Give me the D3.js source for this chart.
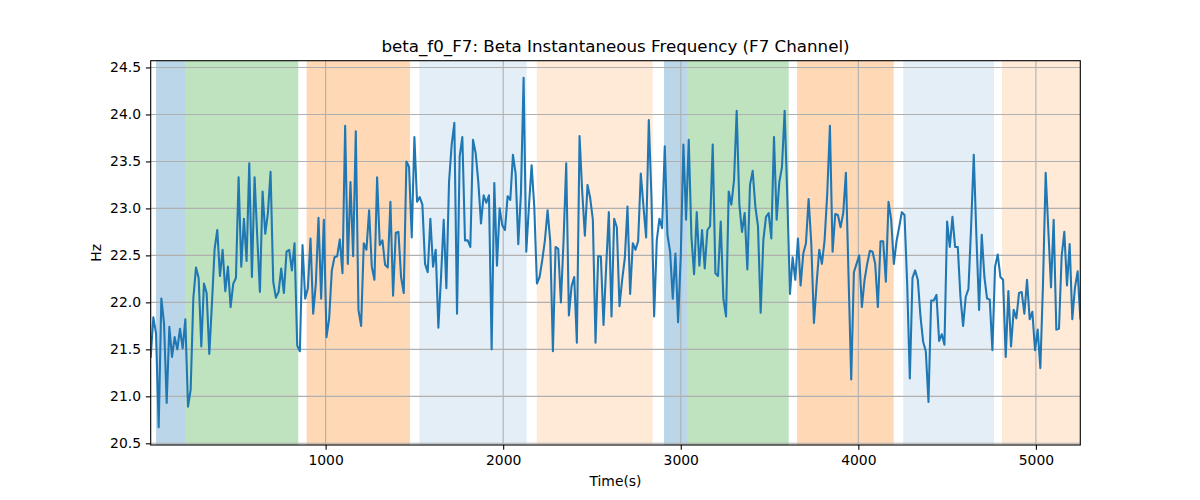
<!DOCTYPE html>
<html>
<head>
<meta charset="utf-8">
<script src="https://cdn.jsdelivr.net/npm/d3@7"></script>
<style>
  html, body { margin: 0; padding: 0; background: #fff; }
  svg { display: block; font-family: "DejaVu Sans", sans-serif; }
</style>
</head>
<body>
<svg id="chart" width="1200" height="500"></svg>
<script>
// ---- data ----
const T0 = 15;      // first sample time (s)
const DT = 15;      // sample spacing (s)
const values = [
  21.42, 21.84, 21.67, 20.67, 22.04, 21.78, 20.93, 21.74, 21.42, 21.63,
  21.50, 21.72, 21.51, 21.82, 20.89, 21.07, 22.04, 22.37, 22.26, 21.53,
  22.20, 22.10, 21.45, 21.99, 22.57, 22.77, 22.28, 22.56, 22.12, 22.38,
  21.95, 22.20, 22.26, 23.33, 22.38, 22.89, 22.44, 23.48, 22.27, 23.33,
  22.70, 22.11, 23.18, 22.73, 22.95, 23.39, 22.22, 22.05, 22.11, 22.36,
  22.10, 22.54, 22.56, 22.34, 22.63, 21.54, 21.48, 22.61, 22.04, 22.15,
  22.68, 21.88, 22.20, 22.90, 22.04, 22.88, 21.63, 21.83, 22.34, 22.48,
  22.49, 22.67, 22.31, 23.88, 22.41, 23.28, 22.49, 23.82, 21.92, 21.75,
  22.63, 22.56, 22.98, 22.38, 22.24, 23.33, 22.61, 22.66, 22.40, 22.37,
  23.07, 22.07, 22.74, 22.75, 22.27, 22.10, 23.50, 23.44, 22.69, 23.76,
  23.07, 23.12, 23.04, 22.41, 22.32, 22.89, 22.38, 22.56, 21.73, 22.27,
  22.88, 22.15, 23.28, 23.68, 23.91, 21.88, 23.55, 23.76, 22.66, 22.66,
  22.59, 23.73, 23.59, 23.28, 22.84, 23.14, 23.06, 23.14, 21.50, 23.27,
  22.39, 23.00, 22.82, 22.77, 23.13, 23.09, 23.57, 23.37, 22.62, 23.16,
  24.39, 22.54, 23.02, 23.46, 23.02, 22.20, 22.27, 22.45, 22.66, 22.98,
  22.65, 21.48, 22.59, 22.57, 22.00, 22.66, 23.48, 21.86, 22.17, 22.27,
  21.57, 23.77, 23.18, 22.71, 23.25, 23.11, 22.88, 21.57, 22.49, 22.49,
  21.76, 22.38, 22.96, 21.85, 22.89, 22.80, 21.96, 22.24, 22.47, 23.02,
  22.09, 22.63, 22.56, 22.65, 23.37, 23.02, 22.69, 23.94, 23.12, 21.85,
  22.66, 22.89, 22.79, 23.66, 22.72, 22.54, 22.04, 22.52, 21.79, 22.49,
  23.68, 22.88, 23.73, 22.70, 22.30, 22.96, 22.39, 22.77, 22.36, 22.77,
  22.81, 23.68, 22.31, 22.28, 22.86, 22.04, 21.85, 23.18, 23.04, 23.30,
  24.04, 23.04, 22.75, 22.95, 22.35, 23.25, 23.40, 23.02, 22.81, 21.89,
  22.66, 22.91, 22.95, 22.68, 23.76, 22.88, 23.28, 23.44, 24.04, 23.12,
  22.09, 22.48, 22.24, 22.68, 22.18, 22.52, 22.63, 23.10, 22.63, 21.78,
  22.20, 22.56, 22.41, 22.66, 23.16, 23.88, 22.54, 22.94, 22.93, 22.80,
  22.95, 23.38, 22.27, 21.18, 22.32, 22.41, 22.50, 21.95, 22.24, 22.41,
  22.55, 22.54, 22.41, 21.95, 22.65, 22.65, 22.22, 23.07, 22.88, 22.41,
  22.65, 22.80, 22.96, 22.93, 22.20, 21.19, 22.26, 22.34, 22.24, 21.85,
  21.58, 21.48, 20.94, 22.02, 22.02, 22.08, 21.59, 21.66, 21.55, 22.86,
  22.59, 22.91, 22.59, 22.59, 22.06, 21.75, 22.06, 22.14, 22.80, 23.57,
  22.70, 21.92, 22.72, 22.27, 22.04, 22.03, 21.49, 22.38, 22.51, 22.27,
  22.24, 21.42, 22.12, 21.53, 21.92, 21.83, 22.10, 22.11, 21.88, 22.24,
  21.82, 21.90, 21.49, 21.71, 21.30, 22.20, 23.38, 22.77, 22.16, 22.88,
  21.71, 21.72, 22.49, 22.75, 22.18, 22.62, 21.82, 22.16, 22.33, 21.83
];
const times = values.map((_, i) => T0 + i * DT);

// shaded stage intervals (s)
const spanStarts = [45, 208, 893, 1528, 2189, 2906, 3037, 3655, 4253, 4809];
const spanEnds   = [208, 846, 1475, 2132, 2842, 3037, 3608, 4199, 4764, 5300];
const spanColors = ["#1f77b4", "#2ca02c", "#ff7f0e", "#1f77b4", "#ff7f0e",
                    "#1f77b4", "#2ca02c", "#ff7f0e", "#1f77b4", "#ff7f0e"];
const spanAlphas = [0.3, 0.3, 0.3, 0.12, 0.16, 0.3, 0.3, 0.3, 0.12, 0.16];

const xTicks = [1000, 2000, 3000, 4000, 5000];
const yTicks = [20.5, 21.0, 21.5, 22.0, 22.5, 23.0, 23.5, 24.0, 24.5];
const xDomain = [15, 5250];
const yDomain = [20.482, 24.572];

const titleText = "beta_f0_F7: Beta Instantaneous Frequency (F7 Channel)";
const xLabel = "Time(s)";
const yLabel = "Hz";

// ---- layout ----
const svg = d3.select("#chart");
const L = 150.7, R = 1080.3, T = 60.7, B = 445;
const x = d3.scaleLinear().domain(xDomain).range([L, R]);
const y = d3.scaleLinear().domain(yDomain).range([B, T]);

const clipId = "plotclip";
svg.append("defs").append("clipPath").attr("id", clipId)
  .append("rect").attr("x", L).attr("y", T).attr("width", R - L).attr("height", B - T);

const plot = svg.append("g").attr("clip-path", `url(#${clipId})`);

// spans
plot.selectAll("rect.span")
  .data(spanStarts.map((s, i) => ({ s, e: spanEnds[i], c: spanColors[i], a: spanAlphas[i] })))
  .join("rect")
  .attr("class", "span")
  .attr("x", d => x(d.s))
  .attr("width", d => x(d.e) - x(d.s))
  .attr("y", T)
  .attr("height", B - T)
  .attr("fill", d => d.c)
  .attr("fill-opacity", d => d.a);

// grid
const grid = plot.append("g").attr("stroke", "#b0b0b0").attr("stroke-width", 1.1);
grid.selectAll("line.gx").data(xTicks).join("line")
  .attr("x1", d => x(d)).attr("x2", d => x(d)).attr("y1", T).attr("y2", B);
grid.selectAll("line.gy").data(yTicks).join("line")
  .attr("y1", d => y(d)).attr("y2", d => y(d)).attr("x1", L).attr("x2", R);

// line
plot.append("path")
  .datum(values.map((v, i) => [times[i], v]))
  .attr("fill", "none")
  .attr("stroke", "#1f77b4")
  .attr("stroke-width", 2.08)
  .attr("stroke-linejoin", "round")
  .attr("stroke-linecap", "square")
  .attr("d", d3.line().x(d => x(d[0])).y(d => y(d[1])));

// axes
const xAxis = d3.axisBottom(x).tickValues(xTicks).tickFormat(d3.format("d"))
  .tickSizeInner(4.86).tickSizeOuter(0).tickPadding(4.86);
const yAxis = d3.axisLeft(y).tickValues(yTicks).tickFormat(d3.format(".1f"))
  .tickSizeInner(4.86).tickSizeOuter(0).tickPadding(4.86);

const gx = svg.append("g").attr("transform", `translate(0,${B})`).call(xAxis);
const gy = svg.append("g").attr("transform", `translate(${L},0)`).call(yAxis);
[gx, gy].forEach(g => {
  g.select(".domain").remove();
  g.selectAll(".tick line").attr("stroke", "#000").attr("stroke-width", 1.1);
  g.selectAll(".tick text").attr("fill", "#000")
    .style("font-family", "DejaVu Sans").style("font-size", "13.9px");
});

// spines
svg.append("rect")
  .attr("x", L).attr("y", T).attr("width", R - L).attr("height", B - T)
  .attr("fill", "none").attr("stroke", "#000").attr("stroke-width", 1.1);

// labels
svg.append("text")
  .attr("x", (L + R) / 2).attr("y", 52)
  .attr("text-anchor", "middle")
  .style("font-size", "16.7px").attr("fill", "#000")
  .text(titleText);

svg.append("text")
  .attr("x", (L + R) / 2).attr("y", 486)
  .attr("text-anchor", "middle")
  .style("font-size", "13.9px").attr("fill", "#000")
  .text(xLabel);

svg.append("text")
  .attr("transform", `translate(101,${(T + B) / 2}) rotate(-90)`)
  .attr("text-anchor", "middle")
  .style("font-size", "13.9px").attr("fill", "#000")
  .text(yLabel);
</script>
</body>
</html>
